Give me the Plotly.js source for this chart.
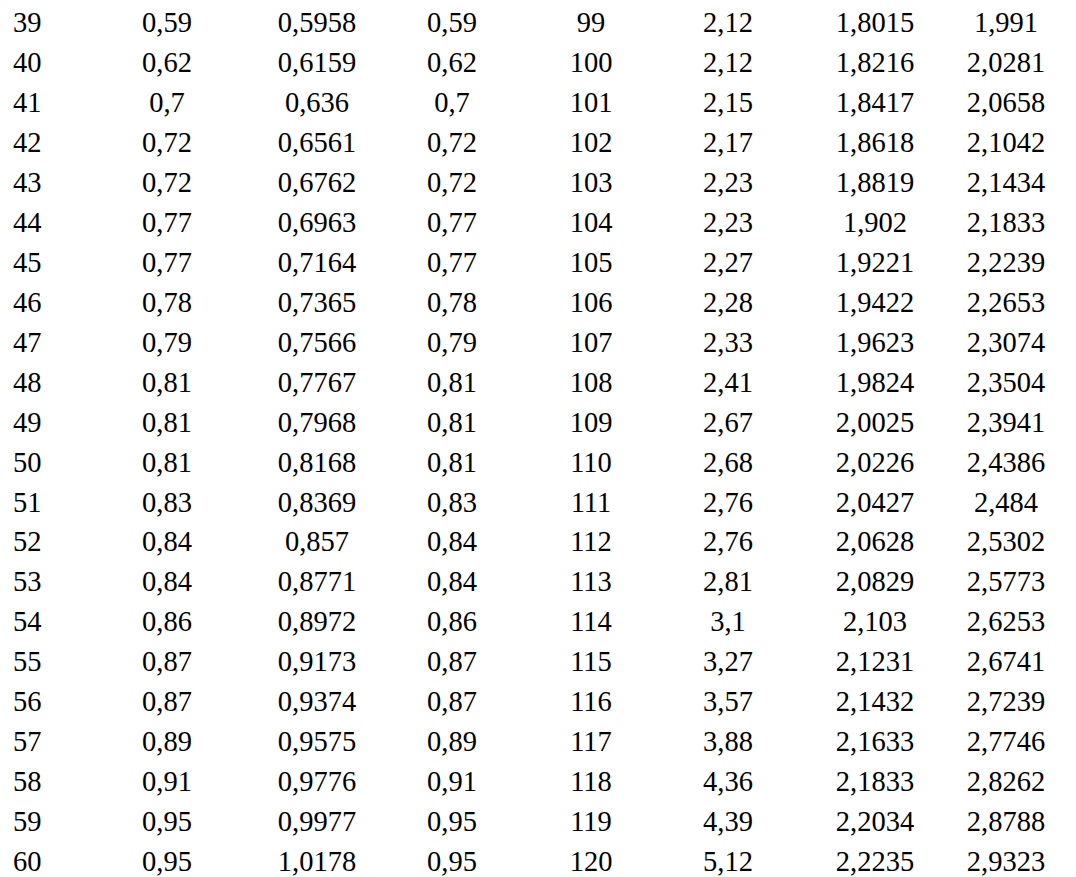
<!DOCTYPE html>
<html>
<head>
<meta charset="utf-8">
<script src="https://cdn.plot.ly/plotly-3.0.1.min.js"></script>
<style>
html,body{margin:0;padding:0;background:#ffffff;}
#chart{width:1076px;height:877px;}
</style>
</head>
<body>
<div id="chart"></div>
<script>
const colNo1  = [39,40,41,42,43,44,45,46,47,48,49,50,51,52,53,54,55,56,57,58,59,60];
const colVal1 = [0.59,0.62,0.7,0.72,0.72,0.77,0.77,0.78,0.79,0.81,0.81,0.81,0.83,0.84,0.84,0.86,0.87,0.87,0.89,0.91,0.95,0.95];
const colVal2 = [0.5958,0.6159,0.636,0.6561,0.6762,0.6963,0.7164,0.7365,0.7566,0.7767,0.7968,0.8168,0.8369,0.857,0.8771,0.8972,0.9173,0.9374,0.9575,0.9776,0.9977,1.0178];
const colVal3 = [0.59,0.62,0.7,0.72,0.72,0.77,0.77,0.78,0.79,0.81,0.81,0.81,0.83,0.84,0.84,0.86,0.87,0.87,0.89,0.91,0.95,0.95];
const colNo2  = [99,100,101,102,103,104,105,106,107,108,109,110,111,112,113,114,115,116,117,118,119,120];
const colVal4 = [2.12,2.12,2.15,2.17,2.23,2.23,2.27,2.28,2.33,2.41,2.67,2.68,2.76,2.76,2.81,3.1,3.27,3.57,3.88,4.36,4.39,5.12];
const colVal5 = [1.8015,1.8216,1.8417,1.8618,1.8819,1.902,1.9221,1.9422,1.9623,1.9824,2.0025,2.0226,2.0427,2.0628,2.0829,2.103,2.1231,2.1432,2.1633,2.1833,2.2034,2.2235];
const colVal6 = [1.991,2.0281,2.0658,2.1042,2.1434,2.1833,2.2239,2.2653,2.3074,2.3504,2.3941,2.4386,2.484,2.5302,2.5773,2.6253,2.6741,2.7239,2.7746,2.8262,2.8788,2.9323];

// ---- layout settings ----
const W = 1076, H = 877;
const columns = [
  {vals: colNo1,  x: 13,   pos: 'middle right'},
  {vals: colVal1, x: 167,  pos: 'middle center'},
  {vals: colVal2, x: 317,  pos: 'middle center'},
  {vals: colVal3, x: 452,  pos: 'middle center'},
  {vals: colNo2,  x: 591,  pos: 'middle center'},
  {vals: colVal4, x: 728,  pos: 'middle center'},
  {vals: colVal5, x: 875,  pos: 'middle center'},
  {vals: colVal6, x: 1006, pos: 'middle center'}
];
const fmt = v => String(v).replace('.', ',');
const rowTop = 25, rowStep = 39.95;

const traces = columns.map(c => ({
  type: 'scatter',
  mode: 'text',
  x: c.vals.map(() => c.x),
  y: c.vals.map((v, i) => i),
  text: c.vals.map(fmt),
  textposition: c.pos,
  textfont: {family: 'Liberation Serif, Times New Roman, serif', size: 28.5, color: '#000000'},
  hoverinfo: 'skip',
  showlegend: false,
  cliponaxis: false
}));

const layout = {
  width: W, height: H,
  margin: {l: 0, r: 0, t: 0, b: 0},
  paper_bgcolor: '#ffffff', plot_bgcolor: 'rgba(0,0,0,0)',
  xaxis: {range: [0, W], visible: false, fixedrange: true},
  yaxis: {range: [(H - rowTop) / rowStep, -rowTop / rowStep], visible: false, fixedrange: true},
  showlegend: false
};

Plotly.newPlot('chart', traces, layout, {displayModeBar: false, staticPlot: true});
</script>
</body>
</html>
